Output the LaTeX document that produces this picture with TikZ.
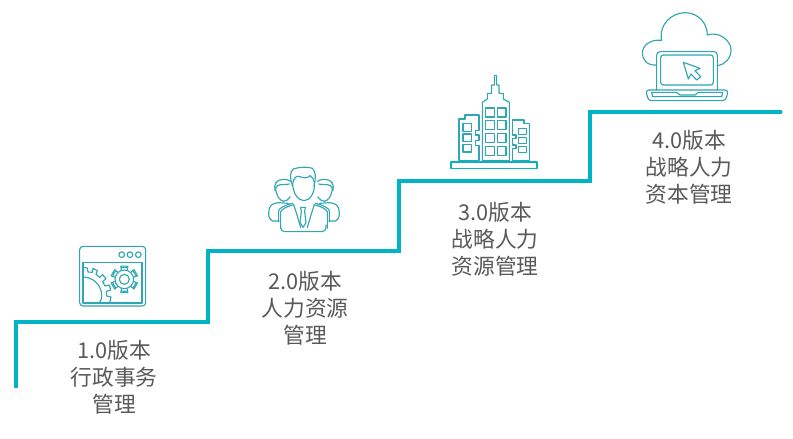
\documentclass[tikz,border=0pt]{standalone}
\usepackage{fontspec}
\setmainfont{Noto Sans CJK SC}
\usetikzlibrary{calc}
\definecolor{stair}{HTML}{00B4C5}
\definecolor{icon}{HTML}{2FA6B2}
\definecolor{txt}{HTML}{595959}
\tikzset{
  stairline/.style={draw=stair,line width=3.4pt,line join=miter},
  iconline/.style={draw=icon,line width=0.85pt,line join=round,line cap=round},
  label/.style={text=txt,font=\fontsize{16.3pt}{20.3pt}\selectfont,align=center,inner sep=0pt,anchor=center}
}
\begin{document}
\begin{tikzpicture}[x=0.75pt,y=-0.75pt]
\useasboundingbox[fill=white] (0,0) rectangle (793,439);
% stairs
\coordinate (s0) at (16,388);
\coordinate (s1) at (16,322);
\coordinate (s2) at (208,322);
\coordinate (s3) at (208,251);
\coordinate (s4) at (399,251);
\coordinate (s5) at (399,181);
\coordinate (s6) at (590,181);
\coordinate (s7) at (590,112);
\coordinate (s8) at (782,112);
\draw[stairline] (s0)--(s1)--(s2)--(s3)--(s4)--(s5)--(s6)--(s7)--(s8);
% labels
\node[label] (l1) at (114,377) {1.0版本\\行政事务\\管理};
\node[label] (l2) at (305,308) {2.0版本\\人力资源\\管理};
\node[label] (l3) at (495,239) {3.0版本\\战略人力\\资源管理};
\node[label] (l4) at (689,167) {4.0版本\\战略人力\\资本管理};
% icon 1: window with gears (zoom origin 60,230)
\begin{scope}[shift={(60,230)},x=0.25pt,y=-0.25pt]
\draw[iconline,rounded corners=2.5pt] (59,49) rectangle (257,228);
\draw[iconline] (69,97) rectangle (246,219);
\foreach \cx in {185,210,235} \draw[iconline] (\cx,74) circle[radius=8.5];
% large gear
\draw[iconline] (69,141) arc[start angle=-90,end angle=0,radius=56] (125,197) -- (125,205) -- (118,219);
\draw[iconline] (69,112) -- (82,114) -- (84,126) -- (97,127) -- (99,115) -- (112,122) -- (108,133) -- (119,142) -- (128,134) -- (138,146) -- (128,155) -- (135,168) -- (148,165) -- (152,180) -- (139,184) -- (140,198) -- (153,201) -- (150,215) -- (146,219);
% small gear
\begin{scope}[shift={(193,148)}]
\draw[iconline] (0,0) circle[radius=15];
\draw[iconline] (0,0) circle[radius=28];
\foreach \a in {0,60,...,300}{
  \draw[iconline] (\a+90-17:30) -- (\a+90-15:41) -- (\a+90+15:41) -- (\a+90+17:30);
}
\foreach \a in {30,90,...,330}{
  \draw[iconline] (\a+30-17:36) arc[start angle=\a+30-17,end angle=\a+30-43,radius=36];
}
\end{scope}
\end{scope}
% icon 2: people (zoom origin 255,160)
\begin{scope}[shift={(255,160)},x=0.25pt,y=-0.25pt]
% centre head
\draw[iconline] (113,78) .. controls (104,55) and (104,35) .. (115,27) .. controls (135,20) and (160,20) .. (172,25) .. controls (183,35) and (183,55) .. (177,78);
\draw[iconline] (113,70) .. controls (113,100) and (130,122) .. (147,122) .. controls (164,122) and (180,100) .. (178,70);
\draw[iconline] (114,68) .. controls (117,52) and (125,46) .. (135,50) .. controls (145,55) and (158,55) .. (165,47) .. controls (172,50) and (177,58) .. (178,68);
% side heads
\foreach \s/\o in {1/0,-1/294}{
\draw[iconline,xscale=1] (\o+\s*60,92) .. controls (\o+\s*56,72) and (\o+\s*64,60) .. (\o+\s*82,58) .. controls (\o+\s*92,57) and (\o+\s*102,60) .. (\o+\s*107,64);
\draw[iconline] (\o+\s*62,85) .. controls (\o+\s*64,108) and (\o+\s*74,122) .. (\o+\s*86,124) .. controls (\o+\s*94,124) and (\o+\s*100,118) .. (\o+\s*106,110);
\draw[iconline] (\o+\s*62,84) .. controls (\o+\s*68,70) and (\o+\s*80,76) .. (\o+\s*103,72);
% side bodies
\draw[iconline] (\o+\s*72,183) -- (\o+\s*52,183) .. controls (\o+\s*44,180) and (\o+\s*41,172) .. (\o+\s*41,160) -- (\o+\s*43,145) .. controls (\o+\s*46,135) and (\o+\s*55,130) .. (\o+\s*70,128) -- (\o+\s*100,130);
% suit shoulders double line
\draw[iconline] (\o+\s*71,185) -- (\o+\s*71,152) .. controls (\o+\s*75,142) and (\o+\s*90,136) .. (\o+\s*113,130);
\draw[iconline] (\o+\s*77,205) -- (\o+\s*77,155) .. controls (\o+\s*82,146) and (\o+\s*95,140) .. (\o+\s*116,134);
\draw[iconline] (\o+\s*116,134) -- (\o+\s*126,165) -- (\o+\s*137,203);
}
\draw[iconline,rounded corners=3pt] (77,195) -- (77,215) -- (213,215) -- (213,195);
% tie
\draw[iconline] (137,142) -- (151,142) -- (149,155) -- (153,188) -- (144,202) -- (135,188) -- (139,155) -- cycle;
\end{scope}
% icon 3: buildings (zoom origin 440,70)
\begin{scope}[shift={(440,70)},x=0.25pt,y=-0.25pt]
\draw[iconline,draw=stair!85!icon] (33,276) rectangle (291,296);
\draw[iconline] (127,272) -- (127,97) -- (142,87) -- (142,70) -- (155,70) -- (155,45) -- (163,45) -- (163,17) -- (170,17) -- (170,45) -- (177,45) -- (177,70) -- (190,70) -- (190,87) -- (208,97) -- (208,272) -- cycle;
\foreach \wy in {114,152,190,229}{
  \draw[iconline] (137,\wy) rectangle ++(26,27);
  \draw[iconline] (172,\wy) rectangle ++(26,27);
}
\draw[iconline] (57,272) -- (57,147) -- (75,147) -- (75,135) -- (117,135) -- (117,181) -- (106,181) -- (106,195) -- (117,195) -- (117,212) -- (106,212) -- (106,226) -- (117,226) -- (117,272) -- cycle;
\foreach \wy/\wh in {160/24,192/23,223/23} \draw[iconline] (69,\wy) rectangle ++(26,\wh);
\draw[iconline] (218,272) -- (218,235) -- (228,235) -- (228,225) -- (218,225) -- (218,205) -- (228,205) -- (228,195) -- (218,195) -- (218,150) -- (252,150) -- (252,160) -- (269,160) -- (269,272) -- cycle;
\foreach \wy in {175,203,230} \draw[iconline] (236,\wy) rectangle ++(24,18);
\end{scope}
% icon 4: cloud and laptop (zoom origin 630,5)
\begin{scope}[shift={(630,5)},x=0.25pt,y=-0.25pt]
\draw[iconline] (78,180) .. controls (50,182) and (37,162) .. (37,145) .. controls (37,122) and (60,102) .. (95,106) .. controls (85,60) and (125,23) .. (165,23) .. controls (205,23) and (232,55) .. (232,90) .. controls (265,78) and (303,105) .. (303,135) .. controls (303,160) and (285,178) .. (264,182);
\draw[iconline,rounded corners=2.5pt] (80,255) -- (80,140) -- (262,140) -- (262,255);
\draw[iconline,rounded corners=2pt] (92,150) rectangle (250,240);
\draw[iconline,rounded corners=2.5pt] (47,255) -- (295,255) -- (287,287) -- (55,287) -- cycle;
\draw[iconline] (65,262) -- (140,262) -- (150,270) -- (195,270) -- (205,262) -- (278,262) -- (275,275) -- (68,275) -- cycle;
\draw[iconline] (160,172) -- (210,190) -- (195,197) -- (212,215) -- (200,225) -- (183,207) -- (175,222) -- cycle;
\end{scope}
\end{tikzpicture}
\end{document}
